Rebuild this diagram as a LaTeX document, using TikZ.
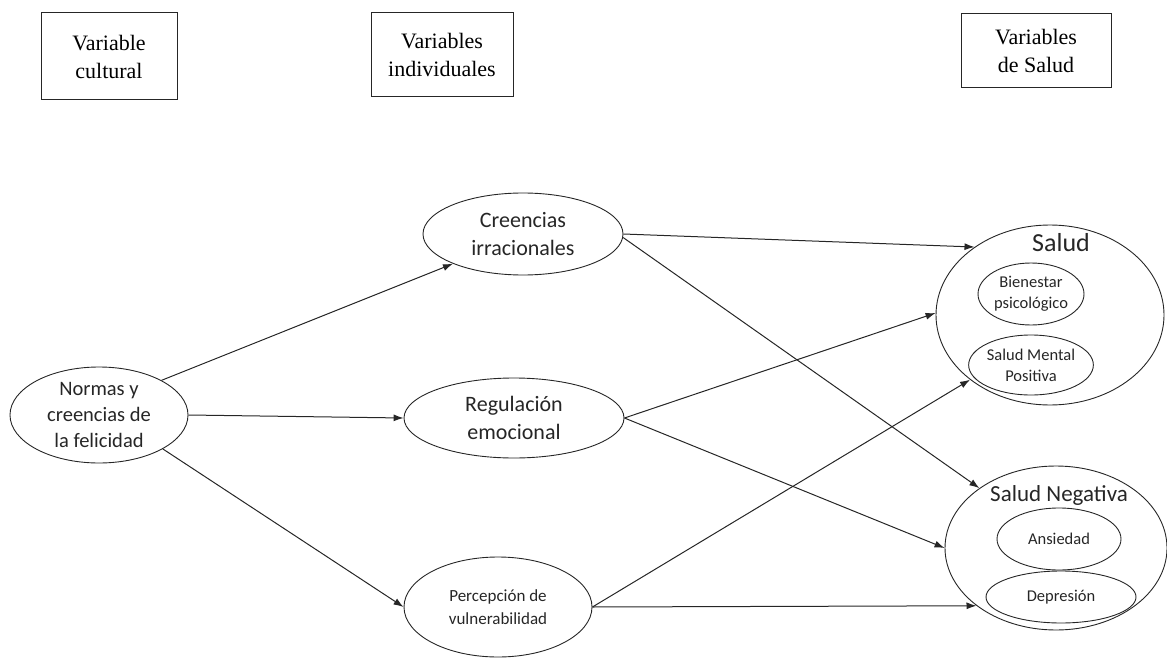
\documentclass[tikz,border=0pt]{standalone}
\usepackage{fontspec}
\setmainfont{Liberation Serif}
\newfontfamily\calib{Carlito}
\usetikzlibrary{shapes.geometric,arrows.meta}
\definecolor{ink}{HTML}{262626}
\begin{document}
\begin{tikzpicture}[x=1pt,y=-1pt,
  box/.style={draw=ink,line width=1pt,rectangle,inner sep=0pt,align=center,
    text=black,font=\fontsize{22}{28}\selectfont},
  oval/.style={draw=ink,line width=0.9pt,ellipse,inner sep=0pt,align=center,
    text=ink},
  arr/.style={draw=ink,line width=1pt,-{Latex[length=10pt,width=7pt]}}]
\useasboundingbox (0,0) rectangle (1167,658);

% column headings
\node[box,minimum width=136pt,minimum height=87pt] (h1) at (109,56.5) {Variable\\cultural};
\node[box,minimum width=142pt,minimum height=84pt] (h2) at (442,55) {Variables\\individuales};
\node[box,minimum width=150pt,minimum height=74pt] (h3) at (1036,51) {Variables\\de Salud};

% cultural and individual variables
\node[oval,minimum width=178pt,minimum height=96pt,font=\calib\fontsize{20.5}{26}\selectfont]
  (N) at (99,415) {Normas y\\creencias de\\la felicidad};
\node[oval,minimum width=200pt,minimum height=82pt,font=\calib\fontsize{22}{28}\selectfont]
  (C) at (523,234) {Creencias\\irracionales};
\node[oval,minimum width=220pt,minimum height=80pt,font=\calib\fontsize{22}{28}\selectfont]
  (R) at (514,418) {Regulación\\emocional};
\node[oval,minimum width=188pt,minimum height=100pt,font=\calib\fontsize{17}{23}\selectfont]
  (P) at (498,607) {Percepción de\\vulnerabilidad};

% positive health
\node[oval,minimum width=228pt,minimum height=180pt] (S) at (1050,315) {};
\node[text=ink,font=\calib\fontsize{26}{30}\selectfont] (St) at (1061,243) {Salud};
\node[oval,minimum width=106pt,minimum height=62pt,font=\calib\fontsize{16.5}{21}\selectfont]
  (B) at (1031,294) {Bienestar\\psicológico};
\node[oval,minimum width=106pt,minimum height=60pt,font=\calib\fontsize{16.5}{21}\selectfont]
  (M) at (1031,365) {Salud Mental\\Positiva};

% negative health
\node[oval,minimum width=222pt,minimum height=164pt] (SN) at (1056,548) {};
\node[text=ink,font=\calib\fontsize{23}{28}\selectfont] (SNt) at (1059,495) {Salud Negativa};
\node[oval,minimum width=124pt,minimum height=62pt,font=\calib\fontsize{16.5}{21}\selectfont]
  (A) at (1059,539) {Ansiedad};
\node[oval,minimum width=150pt,minimum height=52pt,font=\calib\fontsize{16.5}{21}\selectfont]
  (D) at (1061,597) {Depresión};

% paths
\draw[arr] (N.29) -- (C.203);
\draw[arr] (N.east) -- (R.west);
\draw[arr] (N.332) -- (P.west);
\draw[arr] (C.east) -- (S.138);
\draw[arr] (C.-2) -- (SN.142);
\draw[arr] (R.east) -- (S.179);
\draw[arr] (R.east) -- (SN.west);
\draw[arr] (P.east) -- (S.219);
\draw[arr] (P.east) -- (SN.216);
\end{tikzpicture}
\end{document}
